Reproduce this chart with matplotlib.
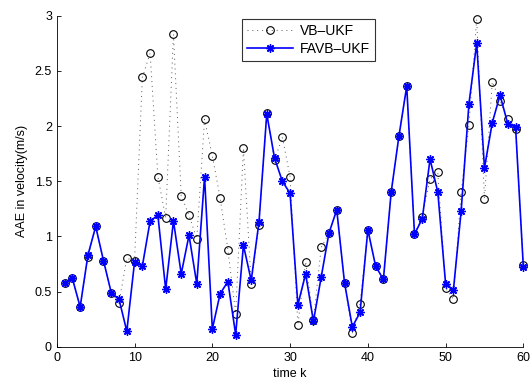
import numpy as np
import matplotlib
matplotlib.use('Agg')
import matplotlib.pyplot as plt

plt.rcParams['font.family'] = ['Liberation Sans', 'DejaVu Sans']

k = np.arange(1, 61)
vb_ukf = [0.58, 0.62, 0.36, 0.81, 1.09, 0.78, 0.49, 0.40, 0.80, 0.78,
          2.44, 2.66, 1.54, 1.17, 2.83, 1.37, 1.19, 0.98, 2.06, 1.73,
          1.35, 0.88, 0.30, 1.80, 0.57, 1.10, 2.12, 1.69, 1.90, 1.54,
          0.20, 0.77, 0.24, 0.90, 1.03, 1.24, 0.58, 0.12, 0.39, 1.06,
          0.73, 0.61, 1.40, 1.91, 2.36, 1.02, 1.18, 1.52, 1.58, 0.53,
          0.43, 1.40, 2.01, 2.97, 1.34, 2.40, 2.23, 2.06, 1.97, 0.74]
favb_ukf = [0.58, 0.62, 0.36, 0.83, 1.09, 0.78, 0.49, 0.43, 0.14, 0.77,
            0.73, 1.14, 1.19, 0.52, 1.14, 0.66, 1.01, 0.57, 1.54, 0.16,
            0.48, 0.59, 0.11, 0.92, 0.60, 1.13, 2.11, 1.71, 1.50, 1.39,
            0.38, 0.66, 0.23, 0.63, 1.03, 1.24, 0.58, 0.18, 0.31, 1.06,
            0.73, 0.61, 1.40, 1.91, 2.36, 1.02, 1.16, 1.70, 1.40, 0.57,
            0.51, 1.23, 2.20, 2.75, 1.62, 2.03, 2.28, 2.02, 1.99, 0.72]

fig = plt.figure(figsize=(5.31, 3.85), dpi=100)
ax = fig.add_axes([0.107, 0.0995, 0.8786, 0.8597])

ax.plot(k, vb_ukf, color='0.35', linestyle=(0, (1, 4)), linewidth=0.7,
        marker='o', markersize=5.5, markerfacecolor='none',
        markeredgecolor='black', markeredgewidth=0.8, label='VB–UKF',
        clip_on=False)
ax.plot(k, favb_ukf, color='blue', linestyle='-', linewidth=1.2,
        marker=(8, 2, 0), markersize=6, markeredgewidth=1.0,
        markeredgecolor='blue', label='FAVB–UKF', clip_on=False)

ax.set_xlim(0, 60)
ax.set_ylim(0, 3)
ax.set_xticks(range(0, 61, 10))
ax.set_yticks([0, 0.5, 1, 1.5, 2, 2.5, 3])
ax.set_yticklabels(['0', '0.5', '1', '1.5', '2', '2.5', '3'])
ax.spines['top'].set_visible(False)
ax.spines['right'].set_visible(False)
ax.tick_params(direction='in', length=3, labelsize=9, width=0.6)
for s in ['left', 'bottom']:
    ax.spines[s].set_linewidth(0.6)

ax.set_xlabel('time k', fontsize=9, labelpad=3)
ax.set_ylabel('AAE in velocity(m/s)', fontsize=9, labelpad=5)

leg = ax.legend(loc='upper left', bbox_to_anchor=(242 / 531, 1 - 19 / 385),
                bbox_transform=fig.transFigure, fontsize=10, frameon=True,
                fancybox=False, edgecolor='black', handlelength=3.3,
                borderpad=0.35, labelspacing=0.3, handletextpad=0.5,
                borderaxespad=0)
leg.get_frame().set_linewidth(0.8)

fig.savefig('out.png', dpi=100)
